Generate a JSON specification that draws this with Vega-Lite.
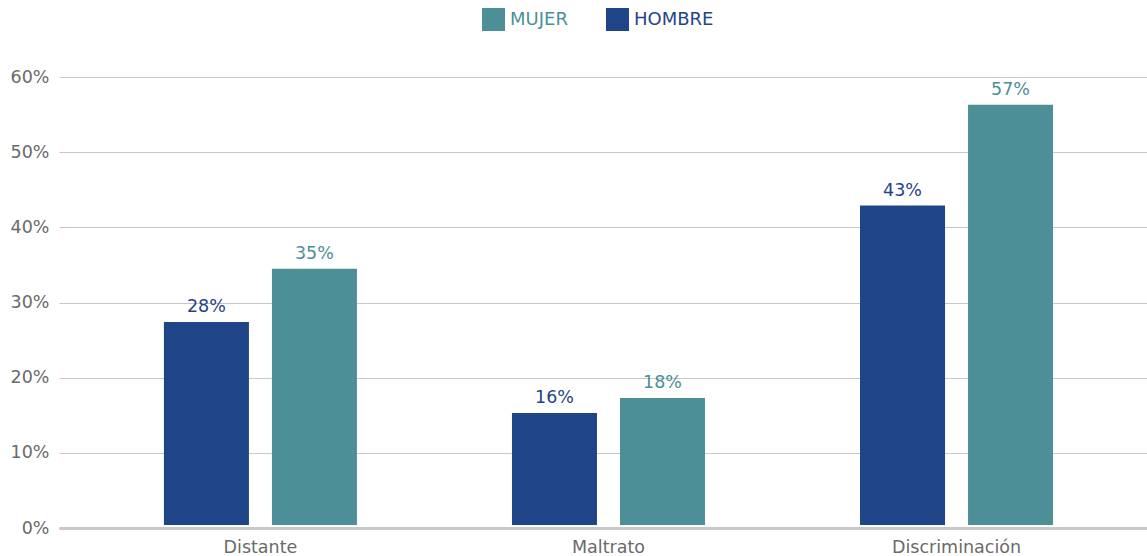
{
  "$schema": "https://vega.github.io/schema/vega-lite/v6.json",
  "width": 1088,
  "height": 451,
  "autosize": {"type": "none"},
  "padding": {"left": 59, "top": 77, "right": 0, "bottom": 28},
  "background": "white",
  "config": {"font": "DejaVu Sans", "view": {"stroke": null}},
  "data": {
    "values": [
      {"categoria": "Distante", "sexo": "HOMBRE", "valor": 0.274, "etiqueta": "28%"},
      {"categoria": "Distante", "sexo": "MUJER", "valor": 0.345, "etiqueta": "35%"},
      {"categoria": "Maltrato", "sexo": "HOMBRE", "valor": 0.153, "etiqueta": "16%"},
      {"categoria": "Maltrato", "sexo": "MUJER", "valor": 0.173, "etiqueta": "18%"},
      {"categoria": "Discriminación", "sexo": "HOMBRE", "valor": 0.429, "etiqueta": "43%"},
      {"categoria": "Discriminación", "sexo": "MUJER", "valor": 0.563, "etiqueta": "57%"}
    ]
  },
  "encoding": {
    "x": {
      "field": "categoria",
      "type": "nominal",
      "sort": ["Distante", "Maltrato", "Discriminación"],
      "scale": {"paddingInner": 0, "paddingOuter": 0.063, "align": 0.625},
      "axis": {
        "title": null,
        "labelAngle": 0,
        "labelFontSize": 17.5,
        "labelColor": "#6a6a6a",
        "labelPadding": 10,
        "ticks": false,
        "domainColor": "#c8c8c8",
        "domainWidth": 3
      }
    },
    "xOffset": {
      "field": "sexo",
      "type": "nominal",
      "sort": ["HOMBRE", "MUJER"],
      "scale": {"paddingInner": 0.213, "paddingOuter": 0.7176}
    },
    "y": {
      "field": "valor",
      "type": "quantitative",
      "scale": {"domain": [0, 0.6], "nice": false},
      "axis": {
        "title": null,
        "format": ".0%",
        "values": [0, 0.1, 0.2, 0.3, 0.4, 0.5, 0.6],
        "domain": false,
        "ticks": false,
        "labelPadding": 10,
        "labelFontSize": 17.5,
        "labelColor": "#6a6a6a",
        "gridColor": "#c8c8c8",
        "gridWidth": 1.2
      }
    },
    "color": {
      "field": "sexo",
      "type": "nominal",
      "scale": {"domain": ["MUJER", "HOMBRE"], "range": ["#4d8f96", "#1f4488"]},
      "legend": {
        "title": null,
        "orient": "none",
        "legendX": 423,
        "legendY": -69,
        "direction": "horizontal",
        "symbolType": "square",
        "symbolSize": 529,
        "symbolStrokeWidth": 0,
        "symbolOpacity": 1,
        "labelFontSize": 18,
        "labelOffset": 5,
        "columnPadding": 38,
        "labelColor": {"expr": "datum.label == 'MUJER' ? '#4d8f96' : '#1f4488'"}
      }
    }
  },
  "layer": [
    {
      "mark": {"type": "bar", "y2Offset": -3},
      "encoding": {"y2": {"datum": 0}}
    },
    {
      "mark": {"type": "text", "dy": -10, "baseline": "alphabetic", "fontSize": 17.5},
      "encoding": {"text": {"field": "etiqueta"}}
    }
  ]
}
